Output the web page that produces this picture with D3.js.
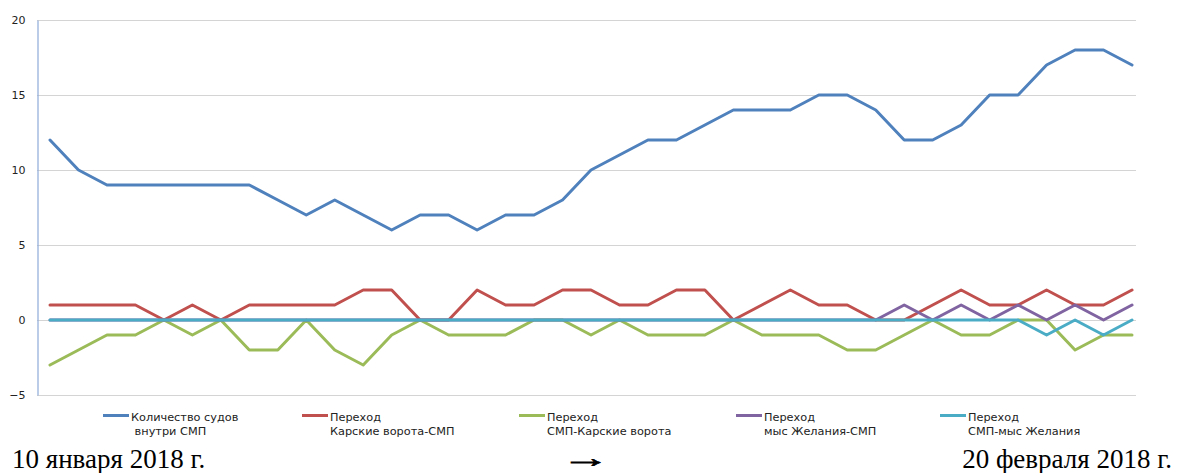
<!DOCTYPE html>
<html>
<head>
<meta charset="utf-8">
<script src="https://cdn.jsdelivr.net/npm/d3@7"></script>
<style>
  html, body { margin: 0; padding: 0; background: #fff; }
  svg { display: block; }
</style>
</head>
<body>
<svg id="chart" width="1178" height="473"></svg>
<script>
// Daily observations, 10 January – 20 February 2018 (39 readings)
const days = d3.range(39);

const yTicks = [-5, 0, 5, 10, 15, 20];

const shipsInside = [12,10,9,9,9,9,9,9,8,7,8,7,6,7,7,6,7,7,8,10,11,12,12,13,14,14,14,15,15,14,12,12,13,15,15,17,18,18,17];
const karaGateToNSR = [1,1,1,1,0,1,0,1,1,1,1,2,2,0,0,2,1,1,2,2,1,1,2,2,0,1,2,1,1,0,0,1,2,1,1,2,1,1,2];
const nsrToKaraGate = [-3,-2,-1,-1,0,-1,0,-2,-2,0,-2,-3,-1,0,-1,-1,-1,0,0,-1,0,-1,-1,-1,0,-1,-1,-1,-2,-2,-1,0,-1,-1,0,0,-2,-1,-1];
const zhelaniyaToNSR = [0,0,0,0,0,0,0,0,0,0,0,0,0,0,0,0,0,0,0,0,0,0,0,0,0,0,0,0,0,0,1,0,1,0,1,0,1,0,1];
const nsrToZhelaniya = [0,0,0,0,0,0,0,0,0,0,0,0,0,0,0,0,0,0,0,0,0,0,0,0,0,0,0,0,0,0,0,0,0,0,0,-1,0,-1,0];

const seriesNames = [
  ["Количество судов", " внутри СМП"],
  ["Переход", "Карские ворота-СМП"],
  ["Переход", "СМП-Карские ворота"],
  ["Переход", "мыс Желания-СМП"],
  ["Переход", "СМП-мыс Желания"]
];
const seriesValues = [shipsInside, karaGateToNSR, nsrToKaraGate, zhelaniyaToNSR, nsrToZhelaniya];
const seriesColors = ["#4f81bd", "#c0504d", "#9bbb59", "#8064a2", "#4bacc6"];

const startLabel = "10 января 2018 г.";
const arrowLabel = "→";
const endLabel = "20 февраля 2018 г.";

const svg = d3.select("#chart");
const plot = { left: 37, right: 1136, top: 20, bottom: 395 };

const x = d3.scalePoint().domain(days).range([50, 1132]);
const y = d3.scaleLinear().domain([-5, 20]).range([plot.bottom, plot.top]);

// horizontal gridlines
svg.append("g")
  .selectAll("line")
  .data(yTicks)
  .join("line")
  .attr("x1", plot.left).attr("x2", plot.right)
  .attr("y1", d => Math.round(y(d)) + 0.5).attr("y2", d => Math.round(y(d)) + 0.5)
  .attr("stroke", "#d4d4d4").attr("stroke-width", 1.2);

// value axis
const yAxis = d3.axisLeft(y).tickValues(yTicks).tickSize(0).tickPadding(12);
const gy = svg.append("g")
  .attr("transform", `translate(${plot.left + 0.5},0)`)
  .call(yAxis);
gy.select(".domain").attr("stroke", "#8eaadb").attr("stroke-width", 1.2);
gy.selectAll("text")
  .attr("font-family", "DejaVu Sans, Verdana, sans-serif")
  .attr("font-size", 11)
  .attr("fill", "#222");

// series lines
const line = d3.line().x((d, i) => x(days[i])).y(d => y(d));
svg.append("g")
  .selectAll("path")
  .data(seriesValues)
  .join("path")
  .attr("d", d => line(d))
  .attr("fill", "none")
  .attr("stroke", (d, i) => seriesColors[i])
  .attr("stroke-width", 3)
  .attr("stroke-linejoin", "round")
  .attr("stroke-linecap", "round");

// legend
const legendX = [103, 302, 519, 736, 940];
const legend = svg.append("g")
  .attr("font-family", "DejaVu Sans, Verdana, sans-serif")
  .attr("font-size", 11.3)
  .attr("fill", "#222");
const items = legend.selectAll("g")
  .data(seriesNames)
  .join("g")
  .attr("transform", (d, i) => `translate(${legendX[i]},0)`);
items.append("line")
  .attr("x1", 0).attr("x2", 26)
  .attr("y1", 415.5).attr("y2", 415.5)
  .attr("stroke", (d, i) => seriesColors[i])
  .attr("stroke-width", 3);
items.append("text")
  .attr("x", 28).attr("y", 421)
  .text(d => d[0]);
items.append("text")
  .attr("x", 28).attr("y", 435)
  .attr("xml:space", "preserve")
  .style("white-space", "pre")
  .text(d => d[1]);

// period caption
const caption = svg.append("g")
  .attr("font-family", "Liberation Serif, Times New Roman, serif")
  .attr("font-size", 27)
  .attr("fill", "#000");
caption.append("text").attr("x", 12).attr("y", 468).text(startLabel);
// the arrow is stretched sideways and given a thin outline to read as a bold long arrow
caption.append("text")
  .attr("transform", "translate(586,467) scale(1.8,1)")
  .attr("text-anchor", "middle")
  .attr("stroke", "#000")
  .attr("stroke-width", 0.7)
  .text(arrowLabel);
caption.append("text").attr("x", 1172).attr("y", 468).attr("text-anchor", "end").text(endLabel);
</script>
</body>
</html>
